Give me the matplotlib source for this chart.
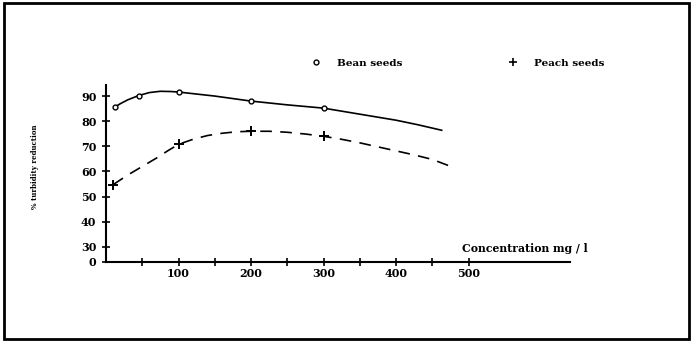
import matplotlib
matplotlib.use("Agg")
import matplotlib.pyplot as plt
from matplotlib.lines import Line2D
from matplotlib.patches import Rectangle

# measured points
bean_x = [12, 45, 100, 200, 300]
bean_y = [85.6, 90.2, 91.6, 88.0, 85.2]
peach_x = [10, 100, 200, 300]
peach_y = [54.8, 70.8, 76.0, 74.0]

# fitted curves
bean_curve_x = [12, 20, 30, 45, 60, 75, 90, 100, 125, 150, 175, 200, 250,
                300, 350, 400, 430, 463]
bean_curve_y = [85.6, 87.0, 88.5, 90.2, 91.4, 91.9, 91.8, 91.6, 90.8, 90.0,
                89.0, 88.0, 86.5, 85.2, 82.8, 80.4, 78.6, 76.4]
peach_curve_x = [10, 30, 50, 70, 85, 100, 120, 140, 160, 180, 200, 225, 250,
                 275, 300, 325, 350, 375, 400, 425, 450, 472]
peach_curve_y = [54.8, 58.6, 62.0, 65.4, 68.2, 70.8, 72.8, 74.3, 75.2, 75.8,
                 76.0, 76.0, 75.6, 74.9, 74.0, 72.8, 71.4, 69.8, 68.2, 66.6,
                 64.8, 62.4]

x_ticks = [100, 200, 300, 400, 500]
y_ticks = [24, 30, 40, 50, 60, 70, 80, 90]
y_labels = ["0", "30", "40", "50", "60", "70", "80", "90"]

font = "DejaVu Serif"

fig = plt.figure(figsize=(6.93, 3.45), dpi=100)
fig.patches.append(Rectangle((4 / 693, 6 / 345), 685 / 693, 336 / 345,
                             transform=fig.transFigure, fill=False,
                             edgecolor="black", linewidth=2))

ax = fig.add_axes([106 / 693, 83 / 345, 464 / 693, 177 / 345])
ax.plot(bean_curve_x, bean_curve_y, color="black", linewidth=1.2)
ax.plot(peach_curve_x, peach_curve_y, color="black", linewidth=1.2,
        dashes=(7, 5))
ax.plot(bean_x, bean_y, linestyle="none", marker="o", markersize=3.5,
        markerfacecolor="white", markeredgecolor="black", markeredgewidth=1.0)
ax.plot(peach_x, peach_y, linestyle="none", marker="+", markersize=7,
        color="black", markeredgewidth=1.4)

ax.set_xlim(0, 640)
ax.set_ylim(24, 94.4)
ax.spines["top"].set_visible(False)
ax.spines["right"].set_visible(False)
ax.spines["left"].set_linewidth(1.5)
ax.spines["bottom"].set_linewidth(1.5)

ax.set_xticks(x_ticks)
ax.set_xticks([50, 150, 250, 350, 450], minor=True)
ax.set_yticks(y_ticks)
ax.set_yticklabels(y_labels)
ax.tick_params(axis="both", which="both", direction="inout", width=1.2,
               length=6, labelsize=8)
ax.tick_params(axis="x", pad=1)
ax.tick_params(axis="y", pad=4)
for lab in ax.get_xticklabels() + ax.get_yticklabels():
    lab.set_fontfamily(font)
    lab.set_fontweight("bold")

fig.text(35 / 693, 1 - 167 / 345, "% turbidity reduction", rotation=90,
         ha="center", va="center", fontsize=5, fontweight="bold",
         family=font)
fig.text(462 / 693, 1 - 249 / 345, "Concentration mg / l", ha="left",
         va="center", fontsize=7.8, fontweight="bold", family=font)

handles = [
    Line2D([], [], linestyle="none", marker="o", markersize=3.5,
           markerfacecolor="white", markeredgecolor="black"),
    Line2D([], [], linestyle="none", marker="+", markersize=6,
           color="black", markeredgewidth=1.2),
]
leg = fig.legend(handles, ["Bean seeds", "Peach seeds"], ncol=2,
                 loc="center left", bbox_to_anchor=(311 / 693, 1 - 63 / 345),
                 bbox_transform=fig.transFigure, frameon=False, borderpad=0,
                 borderaxespad=0, handlelength=1.0, handletextpad=1.5,
                 columnspacing=10.1, numpoints=1,
                 prop={"family": font, "weight": "bold", "size": 7.5})

fig.savefig("out.png", dpi=100)
